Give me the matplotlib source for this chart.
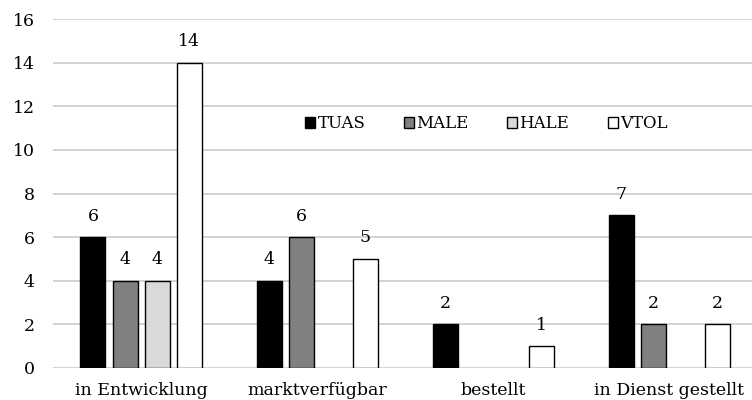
import matplotlib.pyplot as plt
import numpy as np

plt.rcParams['font.family'] = ['DejaVu Serif']

categories = ["in Entwicklung", "marktverfügbar", "bestellt", "in Dienst gestellt"]
series = ["TUAS", "MALE", "HALE", "VTOL"]
tuas = [6, 4, 2, 7]
male = [4, 6, 0, 2]
hale = [4, 0, 0, 0]
vtol = [14, 5, 1, 2]
colors = ["#000000", "#808080", "#d9d9d9", "#ffffff"]

fig = plt.figure(figsize=(7.52, 4.0), dpi=100)
ax = fig.add_axes([53 / 752, 32 / 400, 1 - 53 / 752, 349 / 400])

x = np.arange(len(categories))
width = 0.142
step = 0.182
for i, (name, vals, c) in enumerate(zip(series, [tuas, male, hale, vtol], colors)):
    pos = x + (i - 1.5) * step
    lw = [1.0 if v > 0 else 0 for v in vals]
    bars = ax.bar(pos, vals, width, color=c, edgecolor="black", linewidth=lw,
                  label=name, zorder=3)
    labels = [str(v) if v > 0 else "" for v in vals]
    ax.bar_label(bars, labels=labels, padding=9, fontsize=12.5)

ax.set_xlim(-0.5, 3.47)
ax.set_ylim(0, 16)
ax.set_yticks(range(0, 17, 2))
ax.set_xticks(x)
ax.set_xticklabels(categories, fontsize=12.5)
ax.tick_params(axis="y", labelsize=12.5, length=0, pad=13)
ax.tick_params(axis="x", length=0, pad=10)
ax.grid(axis="y", color="#d0d0d0", linewidth=1.3, zorder=0)
for s in ax.spines.values():
    s.set_visible(False)

ax.legend(loc="center", bbox_to_anchor=(0.62, 0.7), ncol=4, frameon=False,
          fontsize=12, handlelength=0.6, handleheight=0.6, handletextpad=0.15,
          columnspacing=2.3, borderaxespad=0)

fig.savefig("out.png", dpi=100)
